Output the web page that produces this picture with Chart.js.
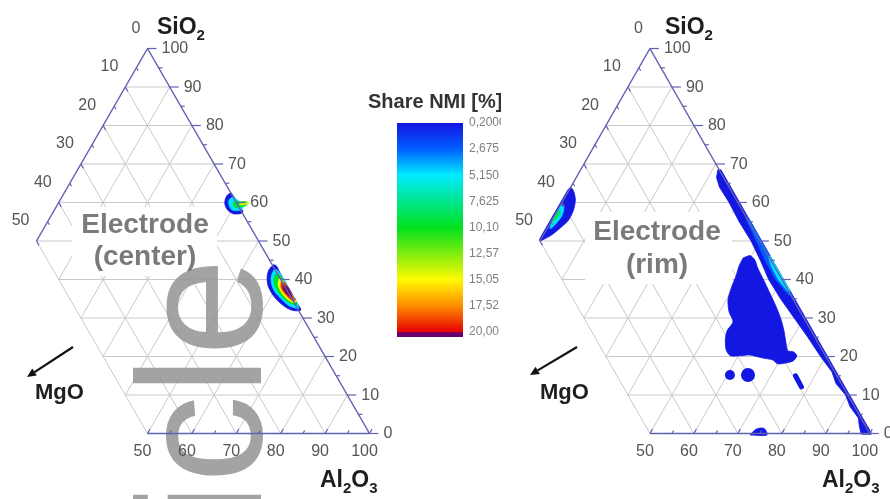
<!DOCTYPE html>
<html>
<head>
<meta charset="utf-8">
<script src="https://cdn.jsdelivr.net/npm/chart.js@4.4.1/dist/chart.umd.min.js"></script>
<style>
  html, body { margin:0; padding:0; background:#ffffff; }
  #wrap { position:relative; width:890px; height:499px; overflow:hidden; background:#ffffff; }
  #wrap canvas { position:absolute; top:0; }
</style>
</head>
<body>
<div id="wrap">
  <canvas id="cLeft" width="445" height="499" style="left:0px"></canvas>
  <canvas id="cRight" width="445" height="499" style="left:445px"></canvas>
  <canvas id="cBar" width="141" height="499" style="left:360px"></canvas>
</div>
<script>
// ---------------- DATA ----------------
const MGO_TICKS = [0, 10, 20, 30, 40, 50];
const SIO2_TICKS = [100, 90, 80, 70, 60, 50, 40, 30, 20, 10, 0];
const AL2O3_TICKS = [50, 60, 70, 80, 90, 100];
const GRID_STEPS = [10, 20, 30, 40, 50, 60, 70, 80, 90];

const CB_VALUES = [0.2, 2.675, 5.15, 7.625, 10.1, 12.575, 15.05, 17.525, 20.0];
const CB_LABELS = ['0,2000', '2,675', '5,150', '7,625', '10,10', '12,57', '15,05', '17,52', '20,00'];
const CB_MIN = 0.2, CB_MAX = 20.0, CB_OVER = 20.47;

// Contour polygons, points are [Al2O3 %, SiO2 %] (MgO = remainder)
// Electrode (center): small area near SiO2 ~60
const CENTER_TOP_1 = [[37.5,62.6],[37.0,61.8],[37.2,60.5],[37.9,59.2],[39.2,57.9],[40.7,57.1],[42.3,57.1],[42.7,57.6],[41.4,58.9],[40.1,60.2],[38.7,61.5]];
const CENTER_TOP_2 = [[38.3,61.5],[38.1,60.5],[38.8,59.2],[40.0,58.1],[41.4,57.9],[42.0,58.1],[42.1,58.9],[40.9,60.0],[39.4,61.0]];
const CENTER_TOP_3 = [[39.5,60.5],[39.4,59.7],[40.4,58.7],[41.5,58.7],[42.7,59.4],[42.3,60.2],[40.7,60.2]];
const CENTER_TOP_4 = [[40.9,60.0],[41.1,59.4],[42.9,59.6],[42.7,60.0]];
const CENTER_TOP_LEVELS = [0.3, 5.0, 9.5, 14.0];
// Electrode (center): area near SiO2 ~33-43
const CENTER_LOW_1 = [[56.4,43.8],[56.1,42.5],[56.6,40.7],[57.8,38.6],[59.9,36.3],[62.5,34.2],[65.1,32.6],[67.1,31.9],[68.5,32.1],[66.7,33.9],[63.9,36.8],[61.3,39.4],[59.0,41.7],[57.2,43.6]];
const CENTER_LOW_2 = [[57.2,42.5],[57.5,40.7],[58.7,38.6],[60.3,36.8],[62.6,35.0],[64.9,33.4],[66.9,32.6],[67.8,32.6],[66.4,34.2],[63.7,36.8],[61.3,39.4],[59.1,41.5],[57.9,42.5]];
const CENTER_LOW_3 = [[58.2,41.5],[58.5,39.9],[60.0,37.8],[62.2,35.8],[64.5,34.2],[66.5,33.4],[66.8,33.7],[65.5,35.0],[63.3,37.1],[61.0,39.4],[59.4,41.0]];
const CENTER_LOW_4 = [[59.5,40.2],[60.1,38.6],[61.7,36.8],[63.9,35.0],[66.0,33.9],[66.2,34.5],[64.7,35.8],[62.9,37.6],[61.0,39.4]];
const CENTER_LOW_5 = [[60.4,39.4],[61.2,37.8],[62.8,36.3],[65.0,34.7],[66.0,34.5],[64.5,36.0],[62.7,37.8],[61.4,39.1]];
const CENTER_LOW_6 = [[61.2,38.6],[62.1,37.3],[63.6,36.0],[64.9,35.2],[63.7,36.8],[62.4,38.1]];
const CENTER_LOW_LEVELS = [0.3, 5.0, 10.0, 15.0, 19.0, 20.3];

// Electrode (rim)
const RIM_EDGE_1 = [[-0.3,63.4],[0.1,63.9],[1.3,62.8],[2.7,60.7],[3.6,58.1],[3.8,55.5],[3.0,53.5],[1.9,51.6],[0.5,50.3],[0.0,50.0],[-0.3,50.4]];
const RIM_EDGE_2 = [[0.0,59.4],[1.1,58.7],[1.7,56.6],[1.4,54.5],[0.7,53.2],[0.2,55.0],[0.05,57.1]];
const RIM_EDGE_3 = [[0.2,58.1],[0.9,57.6],[0.9,55.8],[0.4,55.0],[0.1,56.6]];
const RIM_EDGE_LEVELS = [0.3, 5.0, 8.5];
const RIM_BAND_1 = [[31.9,68.5],[100.4,0],[98.0,0],[96.6,2],[95.4,4],[92.0,7],[89.5,10],[85.8,13],[83.4,16],[78.8,20],[73.4,25],[67.8,30],[62.2,35],[57.0,40],[52.6,45],[48.0,50],[42.8,55],[38.0,60],[33.8,64],[31.9,66.5],[31.2,68.5]];
const RIM_BAND_2 = [[44.4,56],[64.4,36],[63.5,36],[58.6,40],[53.7,45],[49.2,50],[43.8,56]];
const RIM_BAND_3 = [[54.4,46],[63.4,37],[62.8,37],[59.2,40],[56.3,43],[53.9,46]];
const RIM_BAND_LEVELS = [0.3, 2.7, 5.2];
const RIM_BLOB = [[48.4,45.6],[49.7,46.2],[51.3,45.1],[53.0,43.0],[55.9,39.9],[59.0,36.5],[62.0,33.2],[64.7,30.0],[67.0,26.9],[69.0,23.8],[70.6,21.5],[72.1,21.2],[73.3,20.2],[73.2,18.9],[71.7,18.3],[70.0,18.1],[68.4,19.1],[65.9,19.6],[62.5,20.4],[60.6,20.2],[58.2,20.2],[56.5,21.7],[55.0,24.3],[54.2,26.7],[54.4,29.0],[52.2,31.6],[50.4,34.7],[49.6,37.8],[49.1,41.0],[48.5,43.6]];
const RIM_BOTTOM = [[73.0,-0.4],[73.4,0.9],[74.3,1.4],[75.5,1.2],[76.8,-0.4]];
const RIM_CORNER = [[98.3,-0.2],[98.0,1.7],[98.9,1.5],[100.4,-0.2]];
const RIM_STREAK = [[75.6,15.0],[78.4,12.1]];
const RIM_DOTS = [[60.6,15.2],[64.7,15.2]];
const RIM_SPOT_LEVEL = 0.3;

// ---------------- STYLE / LAYOUT ----------------
const FONT = '"Liberation Sans", Arial, Helvetica, sans-serif';
const AXIS_COLOR = '#6262b4';
const GRID_COLOR = '#c9c9c9';
const LABEL_COLOR = '#555555';
const CMAP_STOPS = [[0,[20,20,225]],[0.125,[0,95,255]],[0.25,[0,235,255]],[0.5,[0,225,30]],[0.75,[255,250,0]],[0.875,[255,140,0]],[1,[230,0,0]]];
const OVER_COLOR = 'rgb(105,0,110)';
const DOT_RADII = [5, 7];
const H = Math.sqrt(3) / 2;

Chart.defaults.font.family = FONT;

function cmap(v) {
  if (v > CB_MAX) return OVER_COLOR;
  const f = Math.max(0, Math.min(1, (v - CB_MIN) / (CB_MAX - CB_MIN)));
  for (let i = 1; i < CMAP_STOPS.length; i++) {
    const [f1, c1] = CMAP_STOPS[i], [f0, c0] = CMAP_STOPS[i - 1];
    if (f <= f1) {
      const t = (f - f0) / (f1 - f0);
      const c = c0.map((a, k) => Math.round(a + (c1[k] - a) * t));
      return `rgb(${c[0]},${c[1]},${c[2]})`;
    }
  }
  const c = CMAP_STOPS[CMAP_STOPS.length - 1][1];
  return `rgb(${c[0]},${c[1]},${c[2]})`;
}

function toXY(al, si) { return { x: al + si / 2, y: si * H }; }
function polyData(poly) { const d = poly.map(p => toXY(p[0], p[1])); d.push(d[0]); return d; }

function gridData() {
  const pts = [];
  const seg = (a, b) => { pts.push(toXY(a[0], a[1]), toXY(b[0], b[1]), { x: NaN, y: NaN }); };
  for (const v of GRID_STEPS) {
    seg([v >= 50 ? 0 : 50 - v, v], [100 - v, v]);           // constant SiO2
    if (v <= 50) seg([0, 100 - v], [100 - v, 0]);            // constant MgO
    if (v >= 50) seg([v, 100 - v], [v, 0]); else seg([v, 100 - v], [v, 50 - v]); // constant Al2O3
  }
  return pts;
}
function axisData() {
  return [toXY(0, 100), toXY(0, 50), { x: NaN, y: NaN },
          toXY(0, 100), toXY(100, 0), { x: NaN, y: NaN },
          toXY(50, 0), toXY(100, 0)];
}

const LEFT_LAYOUT = { canvasLeft: 0, width: 445, apexX: 147.5, cornerX: 369.5, apexY: 48.5, baseY: 433.5,
  siTitle: [157, 34], alTitle: [320, 487], mgTitle: [35, 399], arrow: [[73, 347], [27, 377]],
  name: ['Electrode', '(center)'], nameX: 145, nameY: [233, 265], box: [72, 207, 145, 69], watermark: true };
const RIGHT_LAYOUT = { canvasLeft: 445, width: 445, apexX: 651, cornerX: 873, apexY: 48.5, baseY: 433.5,
  siTitle: [665, 34], alTitle: [822, 487], mgTitle: [540, 399], arrow: [[577, 347], [530, 375]],
  name: ['Electrode', '(rim)'], nameX: 657, nameY: [240, 273], box: [585, 212, 147, 72], watermark: false };

function drawChem(ctx, parts, x, y, size) {
  let cx = x;
  for (const [t, sub] of parts) {
    ctx.font = `bold ${sub ? Math.round(size * 0.64) : size}px ${FONT}`;
    ctx.fillText(t, cx, sub ? y + size * 0.24 : y);
    cx += ctx.measureText(t).width;
  }
}
function drawArrow(ctx, a, b) {
  const ang = Math.atan2(b[1] - a[1], b[0] - a[0]);
  const hl = 9, hw = 4.2;
  const bx = b[0] - Math.cos(ang) * hl, by = b[1] - Math.sin(ang) * hl;
  ctx.strokeStyle = '#111'; ctx.fillStyle = '#111'; ctx.lineWidth = 2.2;
  ctx.beginPath(); ctx.moveTo(a[0], a[1]); ctx.lineTo(bx, by); ctx.stroke();
  ctx.beginPath(); ctx.moveTo(b[0], b[1]);
  ctx.lineTo(bx + Math.sin(ang) * hw, by - Math.cos(ang) * hw);
  ctx.lineTo(bx - Math.sin(ang) * hw, by + Math.cos(ang) * hw);
  ctx.closePath(); ctx.fill();
}

function makePanel(canvasId, L, layers) {
  const kx = (L.cornerX - L.apexX) / 50, ky = (L.baseY - L.apexY) / (100 * H);
  const XMIN = 24, XMAX = 103, YMIN = -3, YMAX = 90;
  const pad = {
    left: L.apexX - L.canvasLeft - (50 - XMIN) * kx,
    right: L.width - (L.cornerX - L.canvasLeft + (XMAX - 100) * kx),
    top: L.apexY - (YMAX - 100 * H) * ky,
    bottom: 499 - (L.baseY + (0 - YMIN) * ky)
  };
  const ds = [];
  ds.push({ label: 'grid', data: gridData(), borderColor: GRID_COLOR, borderWidth: 1, pointRadius: 0, fill: false, spanGaps: false, clip: false });
  for (const ly of layers) {
    const col = cmap(ly.level);
    if (ly.type === 'poly') {
      ds.push({ data: polyData(ly.poly), borderColor: col, borderWidth: 0.8, backgroundColor: col, fill: 'shape', pointRadius: 0, tension: ly.tension, clip: false });
    } else if (ly.type === 'streak') {
      ds.push({ data: ly.poly.map(p => toXY(p[0], p[1])), borderColor: col, borderWidth: 5, borderCapStyle: 'round', pointRadius: 0, fill: false, clip: false });
    } else if (ly.type === 'dots') {
      ds.push({ data: ly.poly.map(p => toXY(p[0], p[1])), showLine: false, pointRadius: ly.radii, pointBackgroundColor: col, pointBorderWidth: 0, pointBorderColor: col, clip: false });
    }
  }
  ds.push({ label: 'axes', data: axisData(), borderColor: AXIS_COLOR, borderWidth: 1.5, pointRadius: 0, fill: false, spanGaps: false, clip: false });
  ds.forEach((d, i) => { d.order = ds.length - i; });

  const plugin = {
    id: 'ternaryDecor',
    afterDatasetDraw(chart, args) {
      if (args.index !== 0) return;
      const ctx = chart.ctx;
      ctx.save();
      ctx.fillStyle = '#ffffff';
      ctx.fillRect(L.box[0] - L.canvasLeft, L.box[1], L.box[2], L.box[3]);
      if (L.watermark) {
        ctx.translate(261 - L.canvasLeft, 747);
        ctx.rotate(-Math.PI / 2);
        ctx.font = `176px ${FONT}`;
        ctx.fillStyle = 'rgba(150,150,150,0.88)';
        ctx.textBaseline = 'alphabetic'; ctx.textAlign = 'left';
        ctx.fillText('Article', 0, 0);
      }
      ctx.restore();
    },
    afterDraw(chart) {
      const ctx = chart.ctx, xs = chart.scales.x, ys = chart.scales.y;
      const P = (al, si) => { const q = toXY(al, si); return { x: xs.getPixelForValue(q.x), y: ys.getPixelForValue(q.y) }; };
      const seg = (x1, y1, x2, y2) => { ctx.beginPath(); ctx.moveTo(x1, y1); ctx.lineTo(x2, y2); ctx.stroke(); };
      ctx.save();
      ctx.strokeStyle = AXIS_COLOR; ctx.lineWidth = 1.2;
      for (let s = 0; s <= 100; s += 5) { const p = P(100 - s, s); seg(p.x, p.y, p.x + (s % 10 === 0 ? 9 : 4), p.y); }
      for (let m = 5; m <= 50; m += 5) { const p = P(0, 100 - m); const l = m % 10 === 0 ? 5 : 3.5; seg(p.x, p.y, p.x + 0.5 * l, p.y + H * l); }
      for (let a = 50; a <= 100; a += 5) { const p = P(a, 0); const l = a % 10 === 0 ? 5 : 3.5; seg(p.x, p.y, p.x + 0.5 * l, p.y - H * l); }
      ctx.fillStyle = LABEL_COLOR; ctx.font = `16px ${FONT}`; ctx.textBaseline = 'middle';
      ctx.textAlign = 'left';
      for (const s of SIO2_TICKS) { const p = P(100 - s, s); ctx.fillText(String(s), p.x + 14, p.y + 0.5); }
      ctx.textAlign = 'right';
      for (const m of MGO_TICKS) { const p = P(0, 100 - m); ctx.fillText(String(m), p.x - 7, p.y - 20); }
      ctx.textAlign = 'center';
      for (const a of AL2O3_TICKS) { const p = P(a, 0); ctx.fillText(String(a), p.x - 5, p.y + 18); }
      // axis titles
      const o = L.canvasLeft;
      ctx.fillStyle = '#1e1e1e'; ctx.textAlign = 'left'; ctx.textBaseline = 'alphabetic';
      drawChem(ctx, [['SiO', 0], ['2', 1]], L.siTitle[0] - o, L.siTitle[1], 23);
      drawChem(ctx, [['Al', 0], ['2', 1], ['O', 0], ['3', 1]], L.alTitle[0] - o, L.alTitle[1], 23);
      drawChem(ctx, [['MgO', 0]], L.mgTitle[0] - o, L.mgTitle[1], 22);
      drawArrow(ctx, [L.arrow[0][0] - o, L.arrow[0][1]], [L.arrow[1][0] - o, L.arrow[1][1]]);
      // sample name
      ctx.fillStyle = '#7a7a7a'; ctx.textAlign = 'center'; ctx.font = `bold 28px ${FONT}`;
      ctx.fillText(L.name[0], L.nameX - o, L.nameY[0]);
      ctx.fillText(L.name[1], L.nameX - o, L.nameY[1]);
      ctx.restore();
    }
  };

  return new Chart(document.getElementById(canvasId), {
    type: 'line',
    data: { datasets: ds },
    options: {
      responsive: false, animation: false, devicePixelRatio: 1, events: [],
      layout: { padding: pad },
      plugins: { legend: { display: false }, tooltip: { enabled: false } },
      scales: {
        x: { type: 'linear', display: false, min: XMIN, max: XMAX },
        y: { type: 'linear', display: false, min: YMIN, max: YMAX }
      }
    },
    plugins: [plugin]
  });
}

const LEFT_LAYERS = [];
[CENTER_TOP_1, CENTER_TOP_2, CENTER_TOP_3, CENTER_TOP_4].forEach((p, i) => LEFT_LAYERS.push({ type: 'poly', poly: p, level: CENTER_TOP_LEVELS[i], tension: 0.3 }));
[CENTER_LOW_1, CENTER_LOW_2, CENTER_LOW_3, CENTER_LOW_4, CENTER_LOW_5, CENTER_LOW_6].forEach((p, i) => LEFT_LAYERS.push({ type: 'poly', poly: p, level: CENTER_LOW_LEVELS[i], tension: 0.3 }));

const RIGHT_LAYERS = [];
[RIM_EDGE_1, RIM_EDGE_2, RIM_EDGE_3].forEach((p, i) => RIGHT_LAYERS.push({ type: 'poly', poly: p, level: RIM_EDGE_LEVELS[i], tension: 0.25 }));
[RIM_BAND_1, RIM_BAND_2, RIM_BAND_3].forEach((p, i) => RIGHT_LAYERS.push({ type: 'poly', poly: p, level: RIM_BAND_LEVELS[i], tension: 0 }));
RIGHT_LAYERS.push({ type: 'poly', poly: RIM_BLOB, level: RIM_SPOT_LEVEL, tension: 0.25 });
RIGHT_LAYERS.push({ type: 'poly', poly: RIM_BOTTOM, level: RIM_SPOT_LEVEL, tension: 0.3 });
RIGHT_LAYERS.push({ type: 'poly', poly: RIM_CORNER, level: RIM_SPOT_LEVEL, tension: 0 });
RIGHT_LAYERS.push({ type: 'streak', poly: RIM_STREAK, level: RIM_SPOT_LEVEL });
RIGHT_LAYERS.push({ type: 'dots', poly: RIM_DOTS, level: RIM_SPOT_LEVEL, radii: DOT_RADII });

makePanel('cLeft', LEFT_LAYOUT, LEFT_LAYERS);
makePanel('cRight', RIGHT_LAYOUT, RIGHT_LAYERS);

// ---------------- COLOUR BAR ----------------
function barGradient(context) {
  const chart = context.chart;
  if (!chart.chartArea) return cmap(CB_MIN);
  const y = chart.scales.y;
  const g = chart.ctx.createLinearGradient(0, y.getPixelForValue(CB_MIN), 0, y.getPixelForValue(CB_MAX));
  for (const [f, c] of CMAP_STOPS) g.addColorStop(f, `rgb(${c[0]},${c[1]},${c[2]})`);
  return g;
}
new Chart(document.getElementById('cBar'), {
  type: 'bar',
  data: {
    labels: ['NMI'],
    datasets: [
      { data: [[CB_MIN, CB_MAX]], backgroundColor: barGradient, borderWidth: 0, barPercentage: 1, categoryPercentage: 1, grouped: false },
      { data: [[CB_MAX, CB_OVER]], backgroundColor: OVER_COLOR, borderWidth: 0, barPercentage: 1, categoryPercentage: 1, grouped: false }
    ]
  },
  options: {
    responsive: false, animation: false, devicePixelRatio: 1, events: [],
    layout: { padding: { left: 37, top: 123, bottom: 162, right: 0 } },
    plugins: { legend: { display: false }, tooltip: { enabled: false } },
    scales: {
      x: { display: false },
      y: {
        type: 'linear', reverse: true, min: CB_MIN, max: CB_OVER, position: 'right',
        grid: { display: false, drawTicks: false, tickLength: 0 }, border: { display: false },
        ticks: { padding: 6, color: '#808080', font: { size: 12, family: FONT }, autoSkip: false,
                 callback: (v, i) => CB_LABELS[i] },
        afterBuildTicks: s => { s.ticks = CB_VALUES.map(v => ({ value: v })); },
        afterFit: s => { s.width = 38; }
      }
    }
  },
  plugins: [{
    id: 'cbTitle',
    afterDraw(chart) {
      const ctx = chart.ctx;
      ctx.save();
      ctx.fillStyle = '#333333'; ctx.font = `bold 20px ${FONT}`;
      ctx.textAlign = 'left'; ctx.textBaseline = 'alphabetic';
      ctx.fillText('Share NMI [%]', 8, 108);
      ctx.restore();
    }
  }]
});
</script>
</body>
</html>
